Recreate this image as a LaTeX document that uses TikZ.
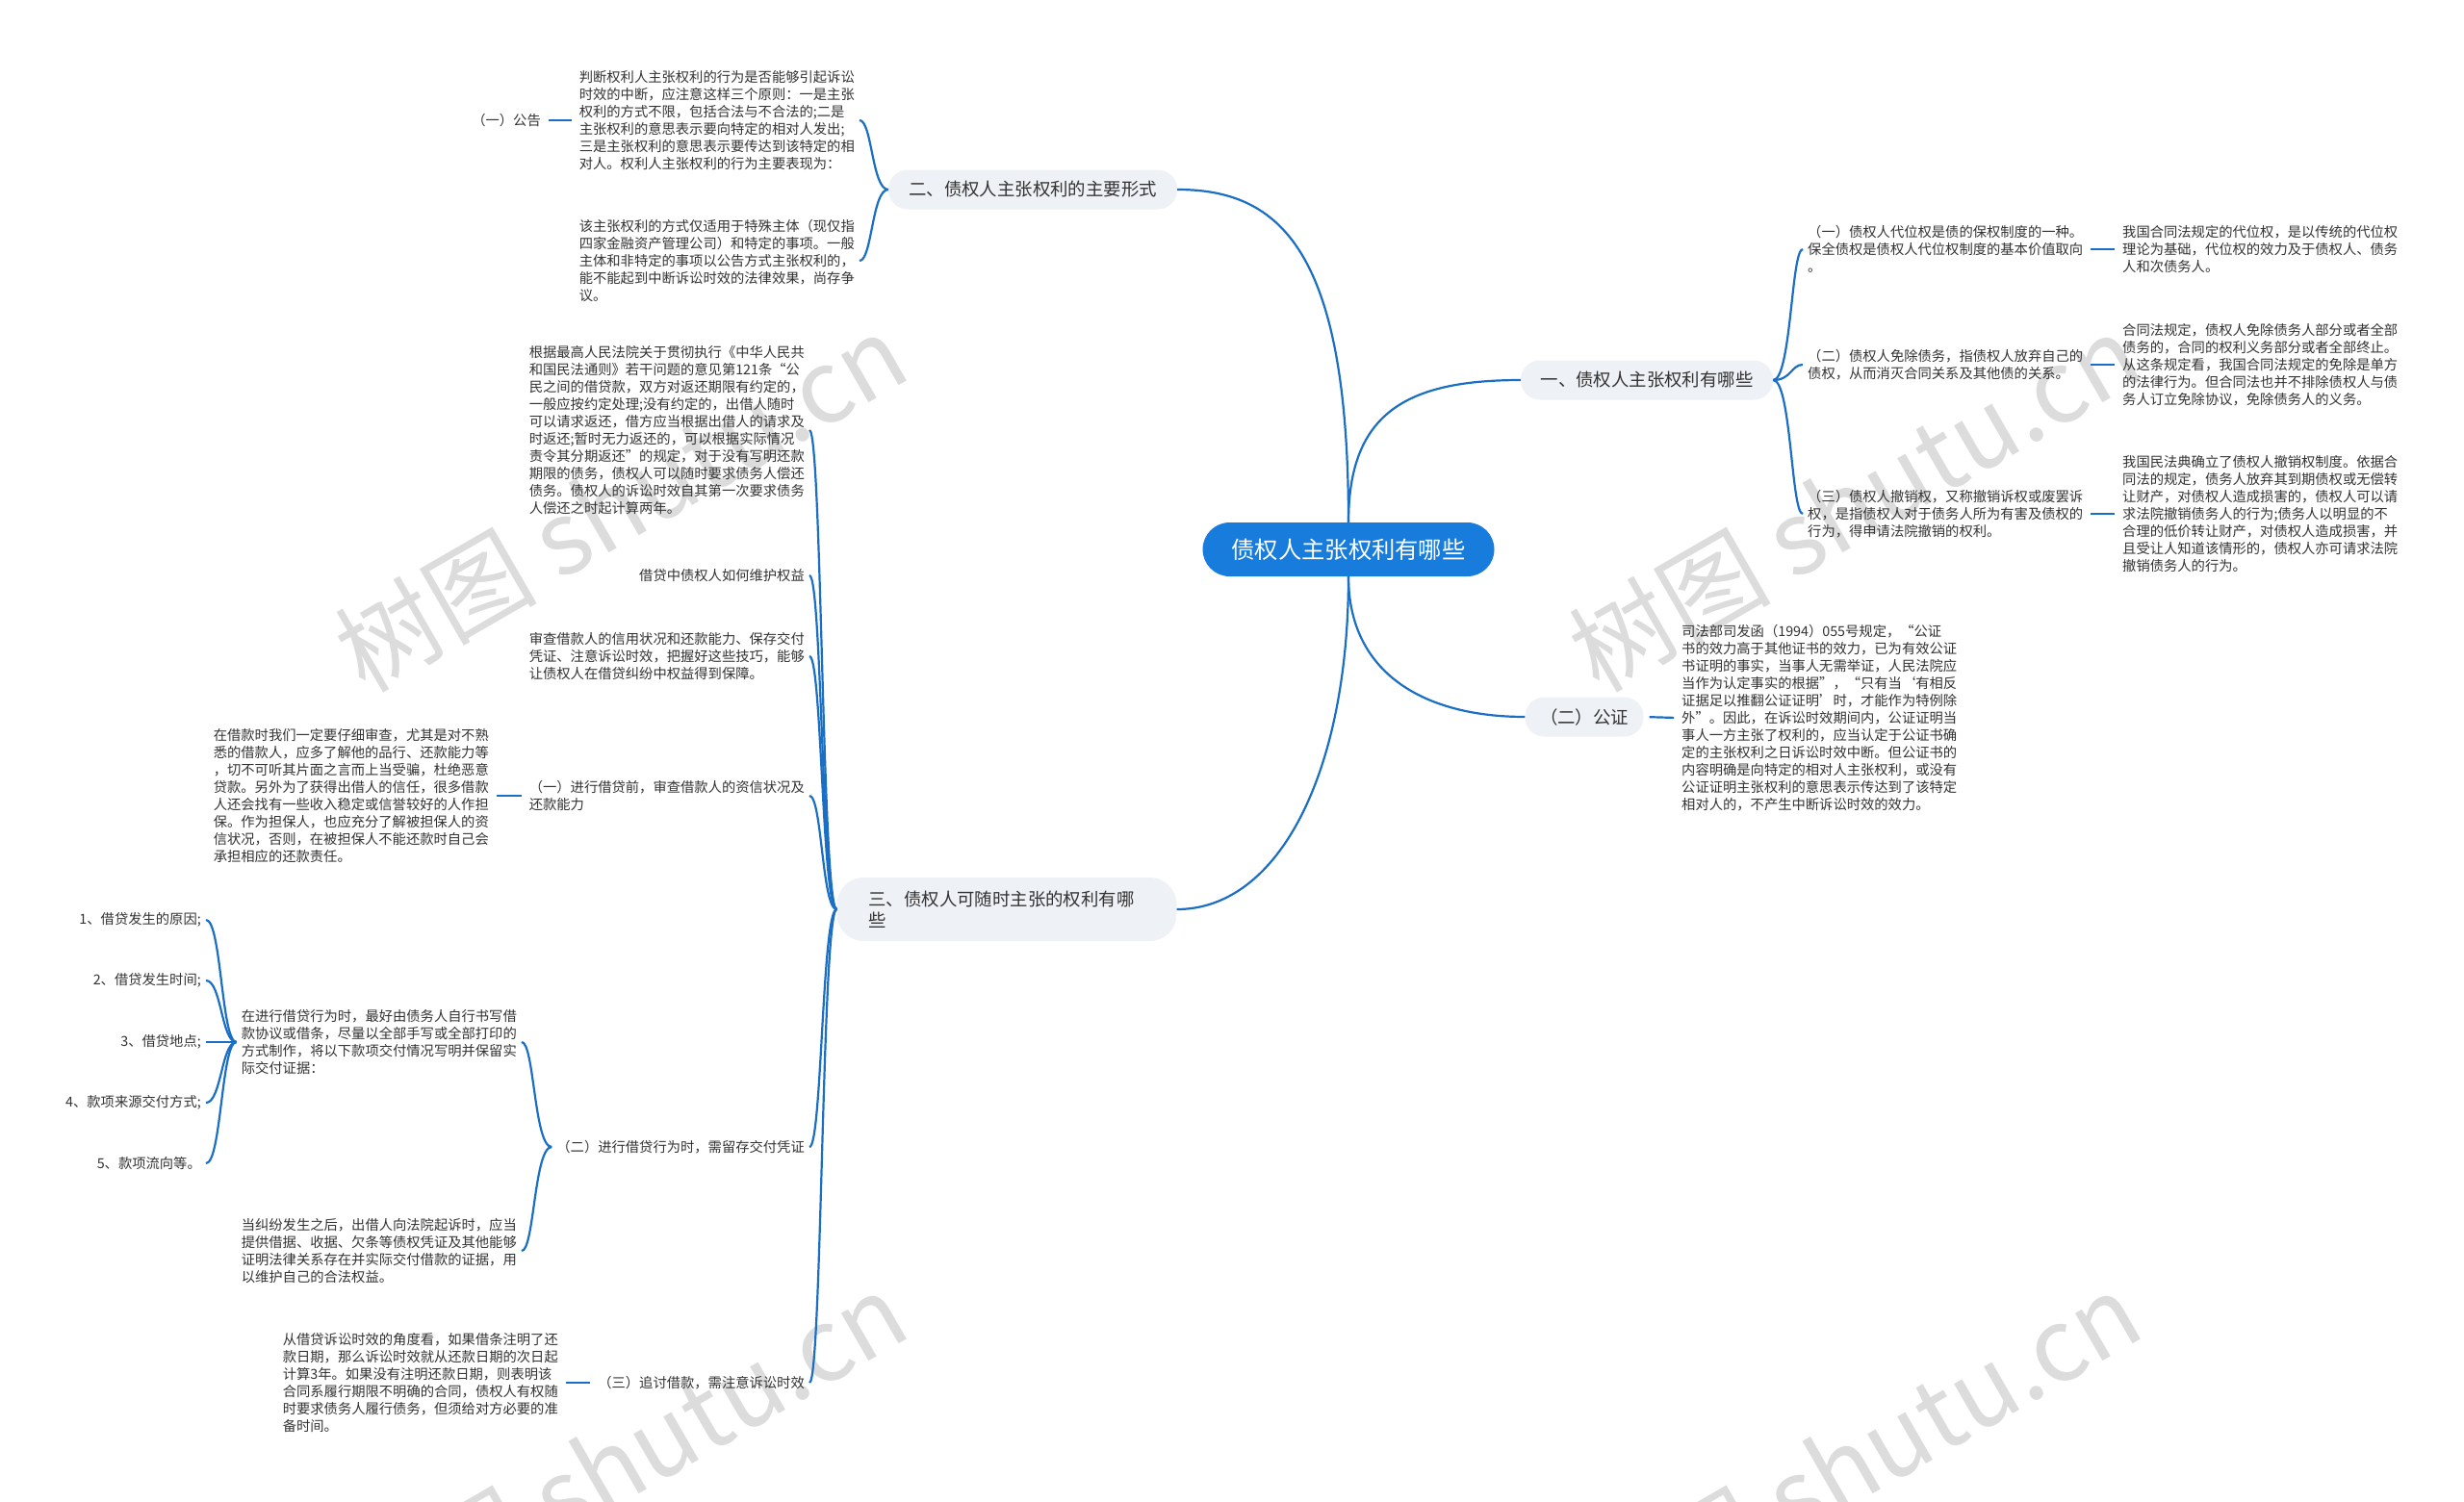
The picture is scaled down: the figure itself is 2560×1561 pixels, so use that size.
\documentclass[tikz,border=0pt]{standalone}
\usepackage{fontspec}
\setmainfont{Noto Sans CJK SC}
\usetikzlibrary{calc}
\definecolor{lineblue}{RGB}{26,111,196}
\definecolor{rootblue}{RGB}{24,124,220}
\definecolor{nodefill}{RGB}{238,241,246}
\definecolor{txtgray}{RGB}{51,51,51}
\definecolor{wmgray}{RGB}{220,220,220}
\begin{document}
\begin{tikzpicture}[x=1pt,y=-1pt,
  conn/.style={draw=lineblue, line width=2.2pt},
  short/.style={shorten <=3pt, shorten >=3pt},
  rootnode/.style={fill=rootblue, text=white, rounded corners=28pt, minimum height=56pt, minimum width=303pt, font=\fontsize{24.3}{28}\selectfont, inner sep=0pt},
  topic/.style={fill=nodefill, text=txtgray, rounded corners=20pt, minimum height=41pt, font=\fontsize{18.4}{22.5}\selectfont, inner ysep=0pt, inner xsep=0pt},
  tx/.style={text=txtgray, font=\fontsize{14.3}{18}\selectfont, align=left, inner xsep=5pt, inner ysep=1pt},
  txr/.style={tx, align=right},
  wm/.style={text=wmgray, font=\fontsize{105}{110}\selectfont, rotate=30, inner sep=0pt}
]
\useasboundingbox (0,0) rectangle (2560,1561);
\fill[white] (0,0) rectangle (2560,1561);
% watermarks
\begin{scope}
\clip (0,0) rectangle (2560,1561);
\node[wm] (wm1) at (645,522) {树图 shutu.cn};
\node[wm] (wm2) at (1927,522) {树图 shutu.cn};
\node[wm] (wm3) at (645,1518) {树图 shutu.cn};
\node[wm] (wm4) at (1927,1518) {树图 shutu.cn};
\end{scope}

% main nodes
\node[rootnode] (root) at (1401,571) {债权人主张权利有哪些};
\node[topic, minimum width=300pt] (n2) at (1073,197) {二、债权人主张权利的主要形式};
\node[topic, minimum width=262pt] (n1) at (1711,395) {一、债权人主张权利有哪些};
\node[topic, minimum width=123pt] (n4) at (1646,745) {（二）公证};
\node[topic, text width=287pt, align=left, inner xsep=33pt, minimum height=66pt, rounded corners=28pt] (n3) at (1046,945) {三、债权人可随时主张的权利有哪\\些};

% root connectors
\draw[conn] (root.north) .. controls (1401,260) and (1330,197) .. (n2.east);
\draw[conn] (root.north) .. controls (1401,430) and (1460,395) .. (n1.west);
\draw[conn] (root.south) .. controls (1401,700) and (1480,745) .. (n4.west);
\draw[conn] (root.south) .. controls (1401,800) and (1330,945) .. (n3.east);

% branch two
\node[tx, anchor=east] (tA) at (893,125) {判断权利人主张权利的行为是否能够引起诉讼\\时效的中断，应注意这样三个原则：一是主张\\权利的方式不限，包括合法与不合法的;二是\\主张权利的意思表示要向特定的相对人发出;\\三是主张权利的意思表示要传达到该特定的相\\对人。权利人主张权利的行为主要表现为：};
\node[tx, anchor=east] (tB) at (893,271) {该主张权利的方式仅适用于特殊主体（现仅指\\四家金融资产管理公司）和特定的事项。一般\\主体和非特定的事项以公告方式主张权利的，\\能不能起到中断诉讼时效的法律效果，尚存争\\议。};
\node[tx, anchor=east] (pub) at (567,125) {（一）公告};
\coordinate (t2) at (906,0);
\draw[conn] (n2.west) .. controls (n2.west -| t2) and (tA.east -| t2) .. (tA.east);
\draw[conn] (n2.west) .. controls (n2.west -| t2) and (tB.east -| t2) .. (tB.east);
\draw[conn, short] (pub.east) -- (tA.west);

% branch one
\node[tx, anchor=west] (R1) at (1873,259) {（一）债权人代位权是债的保权制度的一种。\\保全债权是债权人代位权制度的基本价值取向\\。};
\node[tx, anchor=west] (R1c) at (2200,259) {我国合同法规定的代位权，是以传统的代位权\\理论为基础，代位权的效力及于债权人、债务\\人和次债务人。};
\node[tx, anchor=west] (R2) at (1873,379) {（二）债权人免除债务，指债权人放弃自己的\\债权，从而消灭合同关系及其他债的关系。};
\node[tx, anchor=west] (R2c) at (2200,379) {合同法规定，债权人免除债务人部分或者全部\\债务的，合同的权利义务部分或者全部终止。\\从这条规定看，我国合同法规定的免除是单方\\的法律行为。但合同法也并不排除债权人与债\\务人订立免除协议，免除债务人的义务。};
\node[tx, anchor=west] (R3) at (1873,534) {（三）债权人撤销权，又称撤销诉权或废罢诉\\权，是指债权人对于债务人所为有害及债权的\\行为，得申请法院撤销的权利。};
\node[tx, anchor=west] (R3c) at (2200,534) {我国民法典确立了债权人撤销权制度。依据合\\同法的规定，债务人放弃其到期债权或无偿转\\让财产，对债权人造成损害的，债权人可以请\\求法院撤销债务人的行为;债务人以明显的不\\合理的低价转让财产，对债权人造成损害，并\\且受让人知道该情形的，债权人亦可请求法院\\撤销债务人的行为。};
\coordinate (t1) at (1861,0);
\draw[conn] (n1.east) .. controls (n1.east -| t1) and (R1.west -| t1) .. (R1.west);
\draw[conn] (n1.east) .. controls (n1.east -| t1) and (R2.west -| t1) .. (R2.west);
\draw[conn] (n1.east) .. controls (n1.east -| t1) and (R3.west -| t1) .. (R3.west);
\draw[conn, short] (R1.east) -- (R1c.west);
\draw[conn, short] (R2.east) -- (R2c.west);
\draw[conn, short] (R3.east) -- (R3c.west);

% notarization
\node[tx, anchor=west] (gz) at (1742,746) {司法部司发函（1994）055号规定，“公证\\书的效力高于其他证书的效力，已为有效公证\\书证明的事实，当事人无需举证，人民法院应\\当作为认定事实的根据”，“只有当‘有相反\\证据足以推翻公证证明’时，才能作为特例除\\外”。因此，在诉讼时效期间内，公证证明当\\事人一方主张了权利的，应当认定于公证书确\\定的主张权利之日诉讼时效中断。但公证书的\\内容明确是向特定的相对人主张权利，或没有\\公证证明主张权利的意思表示传达到了该特定\\相对人的，不产生中断诉讼时效的效力。};
\draw[conn, shorten <=6pt, shorten >=3pt] (n4.east) -- (gz.west);

% branch three
\node[tx, anchor=east] (L1) at (841,447) {根据最高人民法院关于贯彻执行《中华人民共\\和国民法通则》若干问题的意见第121条“公\\民之间的借贷款，双方对返还期限有约定的，\\一般应按约定处理;没有约定的，出借人随时\\可以请求返还，借方应当根据出借人的请求及\\时返还;暂时无力返还的，可以根据实际情况\\责令其分期返还”的规定，对于没有写明还款\\期限的债务，债权人可以随时要求债务人偿还\\债务。债权人的诉讼时效自其第一次要求债务\\人偿还之时起计算两年。};
\node[txr, anchor=east] (L2) at (841,598) {借贷中债权人如何维护权益};
\node[tx, anchor=east] (L3) at (841,682) {审查借款人的信用状况和还款能力、保存交付\\凭证、注意诉讼时效，把握好这些技巧，能够\\让债权人在借贷纠纷中权益得到保障。};
\node[tx, anchor=east] (L4) at (841,827) {（一）进行借贷前，审查借款人的资信状况及\\还款能力};
\node[tx, anchor=east] (L5) at (841,1192) {（二）进行借贷行为时，需留存交付凭证};
\node[tx, anchor=east] (L6) at (841,1437) {（三）追讨借款，需注意诉讼时效};
\coordinate (t3) at (854,0);
\foreach \c in {L1,L2,L3,L4,L5,L6}{
  \draw[conn] (n3.west) .. controls (n3.west -| t3) and (\c.east -| t3) .. (\c.east);
}

\node[tx, anchor=east] (L4c) at (513,827) {在借款时我们一定要仔细审查，尤其是对不熟\\悉的借款人，应多了解他的品行、还款能力等\\，切不可听其片面之言而上当受骗，杜绝恶意\\贷款。另外为了获得出借人的信任，很多借款\\人还会找有一些收入稳定或信誉较好的人作担\\保。作为担保人，也应充分了解被担保人的资\\信状况，否则，在被担保人不能还款时自己会\\承担相应的还款责任。};
\draw[conn, short] (L4c.east) -- (L4.west);

\node[tx, anchor=east] (L5a) at (542,1083) {在进行借贷行为时，最好由债务人自行书写借\\款协议或借条，尽量以全部手写或全部打印的\\方式制作，将以下款项交付情况写明并保留实\\际交付证据：};
\node[tx, anchor=east] (L5b) at (542,1300) {当纠纷发生之后，出借人向法院起诉时，应当\\提供借据、收据、欠条等债权凭证及其他能够\\证明法律关系存在并实际交付借款的证据，用\\以维护自己的合法权益。};
\coordinate (t5) at (555,0);
\draw[conn] (L5.west) .. controls (L5.west -| t5) and (L5a.east -| t5) .. (L5a.east);
\draw[conn] (L5.west) .. controls (L5.west -| t5) and (L5b.east -| t5) .. (L5b.east);

\node[txr, anchor=east] (I1) at (214,956) {1、借贷发生的原因;};
\node[txr, anchor=east] (I2) at (214,1019) {2、借贷发生时间;};
\node[txr, anchor=east] (I3) at (214,1083) {3、借贷地点;};
\node[txr, anchor=east] (I4) at (214,1146) {4、款项来源交付方式;};
\node[txr, anchor=east] (I5) at (214,1209) {5、款项流向等。};
\coordinate (t5a) at (230,0);
\foreach \c in {I1,I2,I3,I4,I5}{
  \draw[conn] (L5a.west) .. controls (L5a.west -| t5a) and (\c.east -| t5a) .. (\c.east);
}

\node[tx, anchor=east] (L6c) at (585,1437) {从借贷诉讼时效的角度看，如果借条注明了还\\款日期，那么诉讼时效就从还款日期的次日起\\计算3年。如果没有注明还款日期，则表明该\\合同系履行期限不明确的合同，债权人有权随\\时要求债务人履行债务，但须给对方必要的准\\备时间。};
\draw[conn, short] (L6c.east) -- (L6.west);
\end{tikzpicture}
\end{document}
